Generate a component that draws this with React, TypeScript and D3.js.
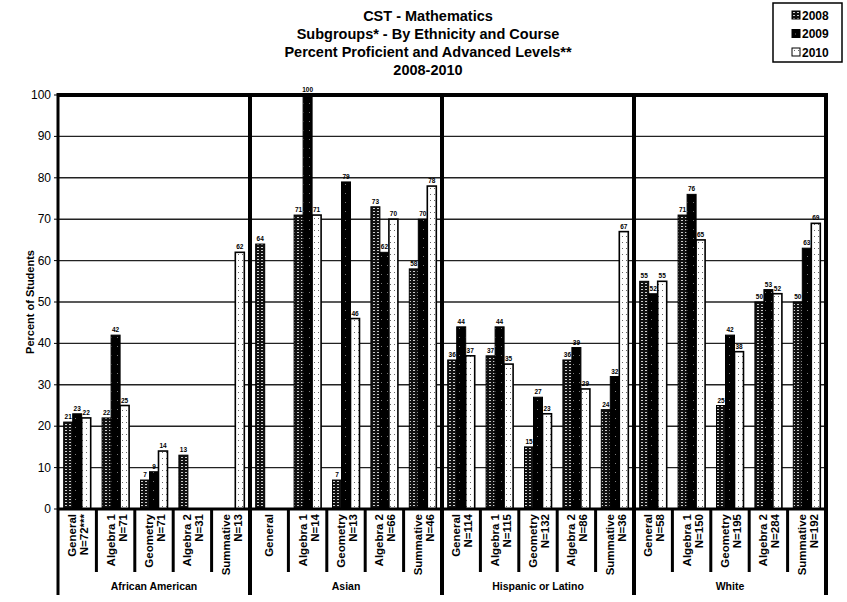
import React from "react";
import * as d3 from "d3";

// Student subgroups and course categories
const groups = ["African American", "Asian", "Hispanic or Latino", "White"];
const courses = ["General", "Algebra 1", "Geometry", "Algebra 2", "Summative"];
const counts = [
  ["N=72***", "N=71", "N=71", "N=31", "N=13"],
  ["", "N=14", "N=13", "N=66", "N=46"],
  ["N=114", "N=115", "N=132", "N=86", "N=36"],
  ["N=58", "N=150", "N=195", "N=284", "N=192"],
];
const years = ["2008", "2009", "2010"];

// Percent proficient and advanced, one row per group, course order as above
const values2008: (number | null)[] = [
  21, 22, 7, 13, null,
  64, 71, 7, 73, 58,
  36, 37, 15, 36, 24,
  55, 71, 25, 50, 50,
];
const values2009: (number | null)[] = [
  23, 42, 9, null, null,
  null, 100, 79, 62, 70,
  44, 44, 27, 39, 32,
  52, 76, 42, 53, 63,
];
const values2010: (number | null)[] = [
  22, 25, 14, null, 62,
  null, 71, 46, 70, 78,
  37, 35, 23, 29, 67,
  55, 65, 38, 52, 69,
];
const yTicks = [0, 10, 20, 30, 40, 50, 60, 70, 80, 90, 100];

const titleLines = [
  "CST - Mathematics",
  "Subgroups* - By Ethnicity and Course",
  "Percent Proficient and Advanced Levels**",
  "2008-2010",
];

const W = 847;
const H = 602;
const left = 58;
const right = 826;
const top = 95;
const bottom = 509;
const font = "Arial, 'Liberation Sans', sans-serif";

export default function App() {
  const cats = groups.flatMap((g, gi) => courses.map((c, ci) => `${gi}-${ci}`));
  const x = d3.scaleBand<string>().domain(cats).range([left, right]).padding(0);
  const bw = x.bandwidth();
  const barW = 9;
  const inner = d3
    .scaleBand<string>()
    .domain(years)
    .range([(bw - barW * 3) / 2, (bw + barW * 3) / 2])
    .padding(0);
  const y = d3.scaleLinear().domain([0, 100]).range([bottom, top]);
  const series = [values2008, values2009, values2010];
  const fills = ["url(#p2008)", "url(#p2009)", "url(#p2010)"];

  const groupW = bw * courses.length;

  return (
    <svg
      width={W}
      height={H}
      style={{ position: "absolute", left: 0, top: 0, background: "#fff" }}
      fontFamily={font}
    >
      <defs>
        <pattern id="p2008" width="4" height="3" patternUnits="userSpaceOnUse">
          <rect width="4" height="3" fill="#111" />
          <rect x="1" y="1" width="2" height="1" fill="#ccc" />
        </pattern>
        <pattern id="p2009" width="6" height="9" patternUnits="userSpaceOnUse">
          <rect width="6" height="9" fill="#000" />
          <rect x="3" y="4" width="1" height="1" fill="#777" />
        </pattern>
        <pattern id="p2010" width="4" height="6" patternUnits="userSpaceOnUse">
          <rect width="4" height="6" fill="#fff" />
          <rect x="2" y="2" width="1" height="1" fill="#666" />
        </pattern>
      </defs>

      {/* Title */}
      {titleLines.map((t, i) => (
        <text
          key={t}
          x={428}
          y={21 + i * 18}
          textAnchor="middle"
          fontSize={14.5}
          fontWeight="bold"
        >
          {t}
        </text>
      ))}

      {/* Legend */}
      <rect x={773} y={3} width={69} height={59} fill="#fff" stroke="#000" strokeWidth={1.5} />
      {years.map((yr, i) => (
        <g key={yr} transform={`translate(792, ${11 + i * 18.5})`}>
          <rect width={8} height={8} fill={fills[i]} stroke="#000" strokeWidth={1} />
          <text x={10} y={8.5} fontSize={12} fontWeight="bold">
            {yr}
          </text>
        </g>
      ))}

      {/* Gridlines */}
      {yTicks
        .filter((t) => t > 0 && t < 100)
        .map((t) => (
          <line
            key={t}
            x1={left}
            x2={right}
            y1={y(t)}
            y2={y(t)}
            stroke="#222"
            strokeWidth={1.4}
          />
        ))}

      {/* Y axis ticks and labels */}
      {yTicks.map((t) => (
        <g key={t}>
          <line x1={left - 4} x2={left} y1={y(t)} y2={y(t)} stroke="#000" strokeWidth={1} />
          <text x={left - 7} y={y(t) + 4} textAnchor="end" fontSize={12}>
            {t}
          </text>
        </g>
      ))}
      <text
        transform={`translate(34, ${(top + bottom) / 2}) rotate(-90)`}
        textAnchor="middle"
        fontSize={11}
        fontWeight="bold"
      >
        Percent of Students
      </text>

      {/* Bars and value labels */}
      {series.map((vals, si) =>
        vals.map((v, i) => {
          if (v === null) return null;
          const bx = (x(cats[i]) as number) + (inner(years[si]) as number);
          const by = y(v);
          return (
            <g key={`${si}-${i}`}>
              <rect
                x={bx}
                y={by}
                width={barW}
                height={bottom - by}
                fill={fills[si]}
                stroke="#000"
                strokeWidth={si === 2 ? 1.6 : 1}
              />
              <text
                x={bx + barW / 2}
                y={by - 3}
                textAnchor="middle"
                fontSize={6.5}
                fontWeight="bold"
              >
                {v}
              </text>
            </g>
          );
        })
      )}

      {/* Frame */}
      <line x1={left - 1} x2={right + 2} y1={top} y2={top} stroke="#000" strokeWidth={4} />
      <line x1={left} x2={right} y1={bottom} y2={bottom} stroke="#000" strokeWidth={3} />

      {/* Group separators */}
      {d3.range(groups.length + 1).map((gi) => {
        const gx = left + gi * groupW;
        return (
          <line
            key={gi}
            x1={gx}
            x2={gx}
            y1={top - 2}
            y2={595}
            stroke="#000"
            strokeWidth={gi === 0 ? 3 : 4}
          />
        );
      })}

      {/* Category separators below the axis */}
      {cats.map((c, i) =>
        i % courses.length === 0 ? null : (
          <line
            key={c}
            x1={x(c) as number}
            x2={x(c) as number}
            y1={bottom}
            y2={572}
            stroke="#000"
            strokeWidth={3}
          />
        )
      )}

      {/* Category labels */}
      {cats.map((c, i) => {
        const gi = Math.floor(i / courses.length);
        const ci = i % courses.length;
        const cx = (x(c) as number) + bw / 2;
        const n = counts[gi][ci];
        const lines = n ? [courses[ci], n] : [courses[ci]];
        return (
          <g key={`lab-${c}`}>
            {lines.map((t, li) => {
              const off = lines.length === 1 ? 4 : li === 0 ? -1 : 11;
              return (
                <text
                  key={li}
                  transform={`translate(${cx + off}, 514) rotate(-90)`}
                  textAnchor="end"
                  fontSize={11.5}
                  fontWeight="bold"
                >
                  {t}
                </text>
              );
            })}
          </g>
        );
      })}

      {/* Group labels */}
      {groups.map((g, gi) => (
        <text
          key={g}
          x={left + gi * groupW + groupW / 2}
          y={590}
          textAnchor="middle"
          fontSize={10.5}
          fontWeight="bold"
        >
          {g}
        </text>
      ))}
    </svg>
  );
}
